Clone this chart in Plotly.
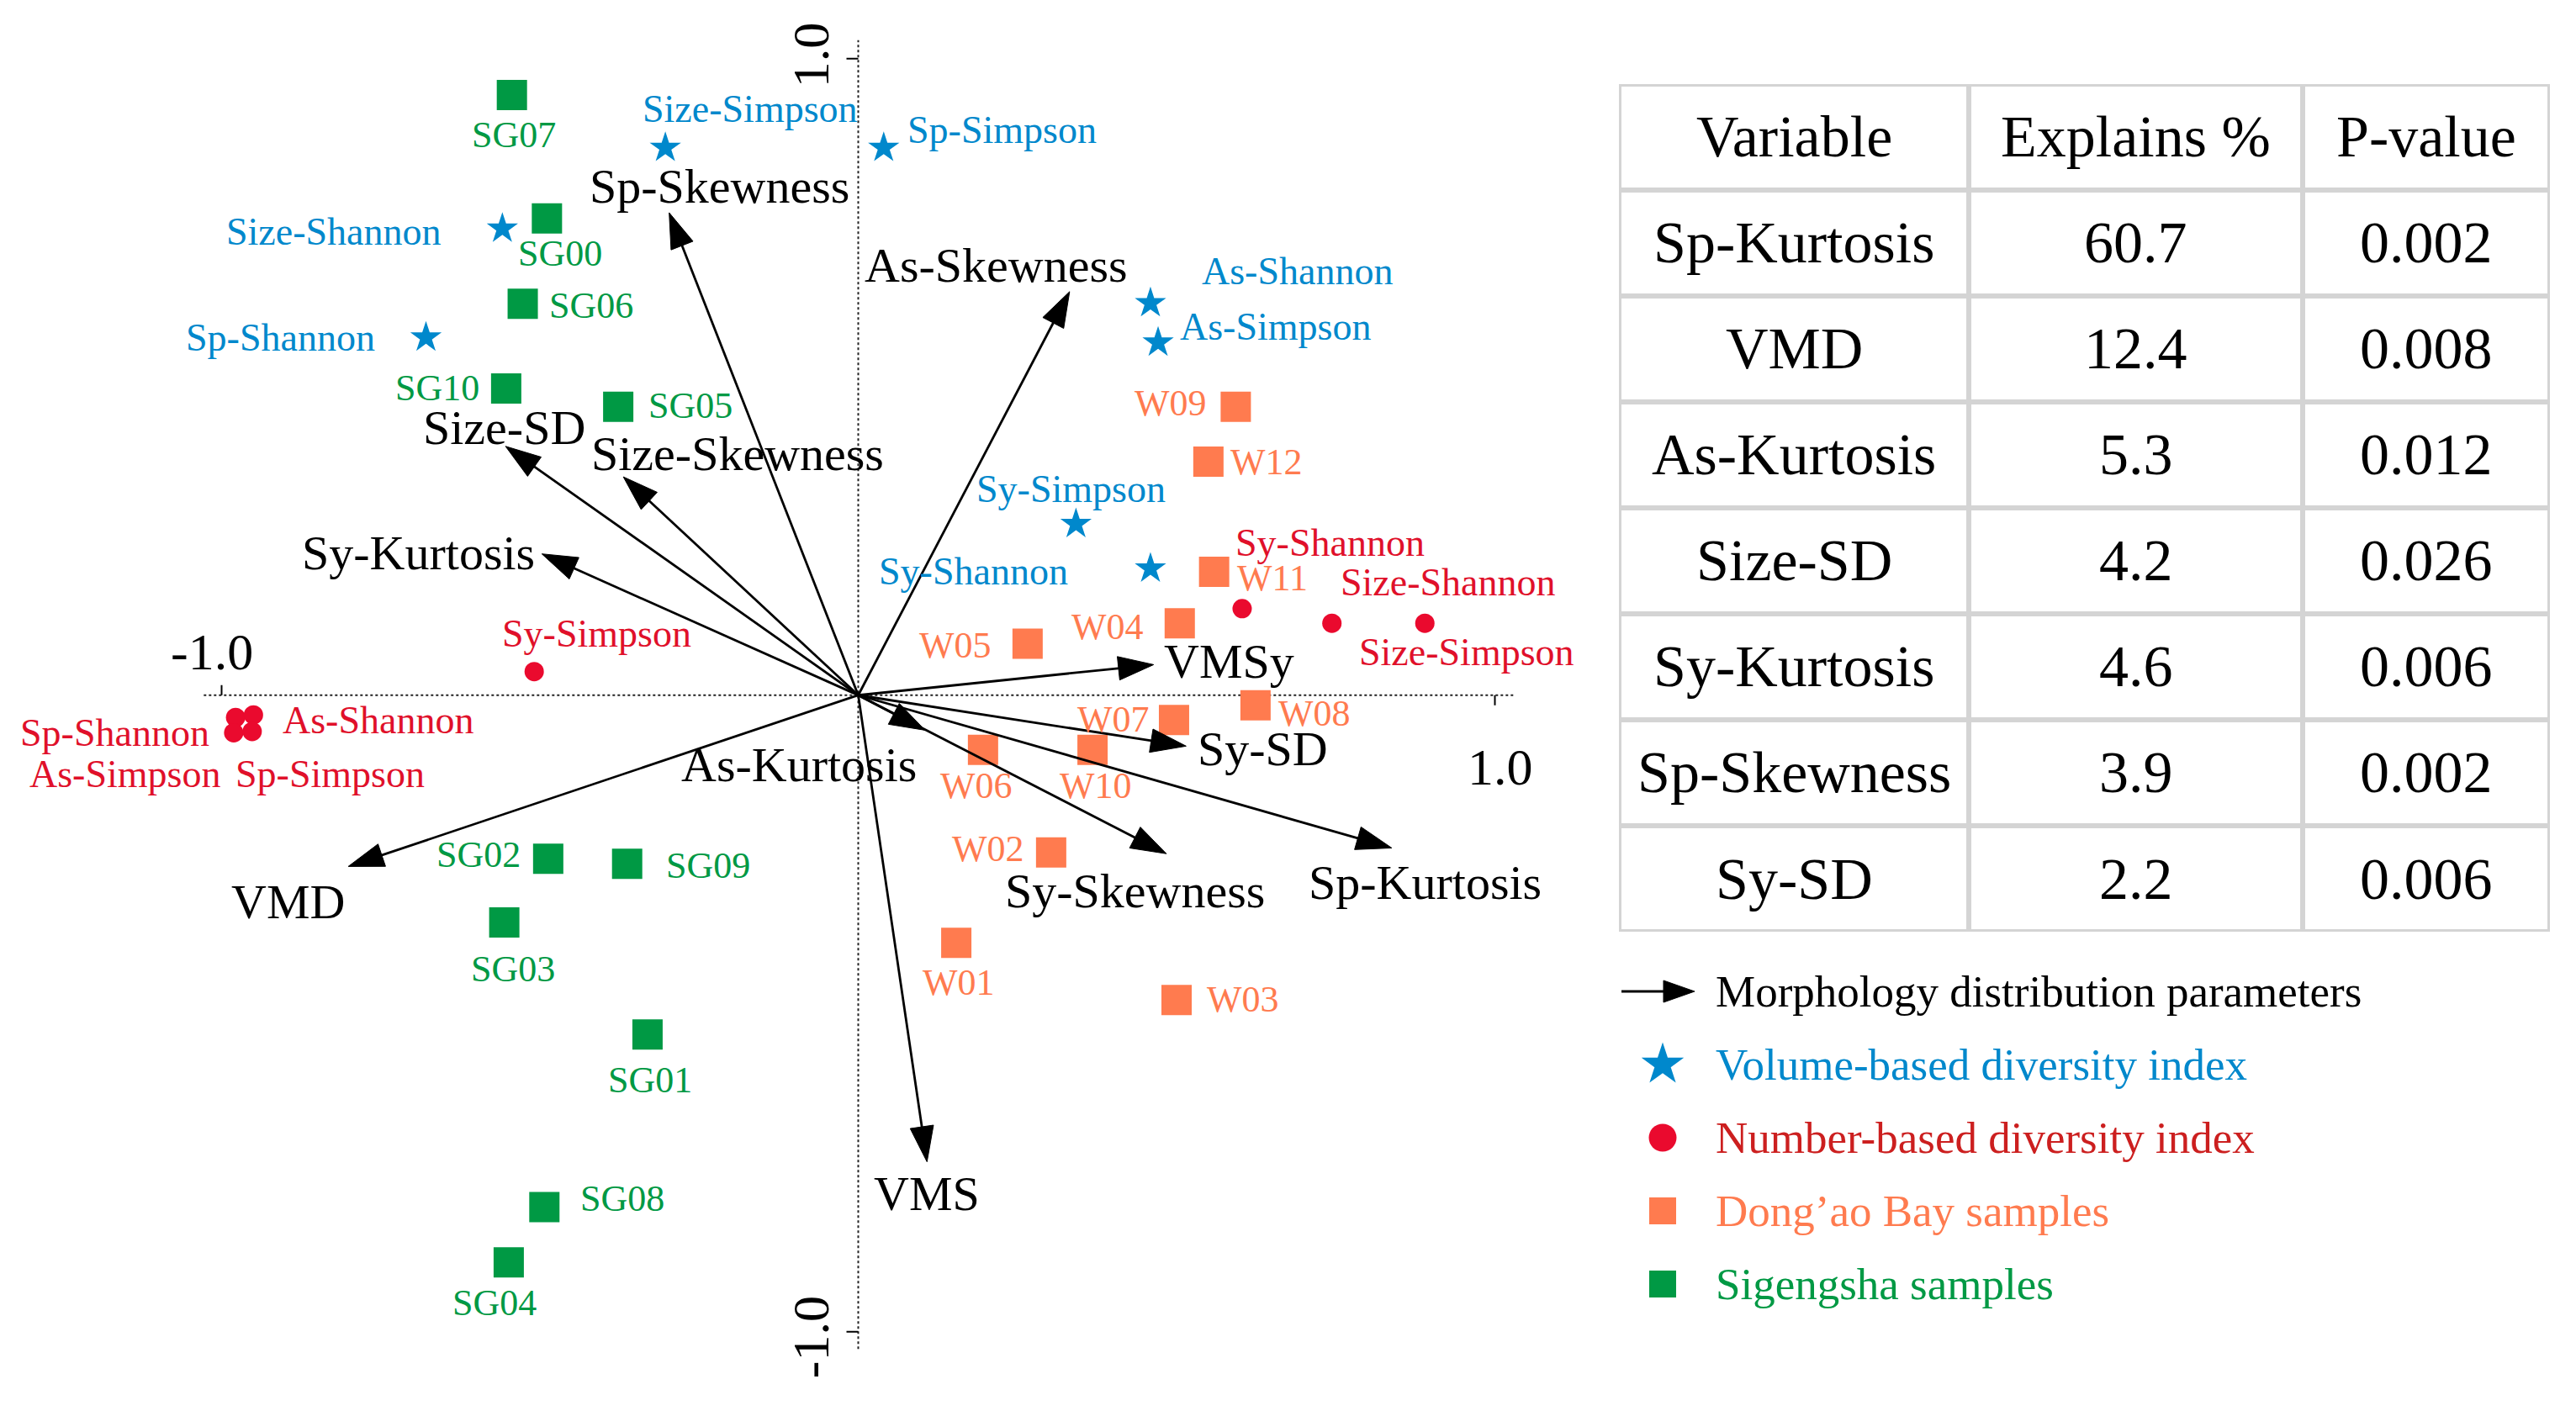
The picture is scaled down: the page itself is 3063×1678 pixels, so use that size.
import math
import plotly.graph_objects as go

FONT = "Liberation Serif, Times New Roman, serif"

# ------------------------------------------------------------------ data
sg_names = ["SG00", "SG01", "SG02", "SG03", "SG04", "SG05", "SG06", "SG07", "SG08", "SG09", "SG10"]
sg_x = [-0.489, -0.331, -0.487, -0.556, -0.549, -0.377, -0.527, -0.544, -0.493, -0.363, -0.553]
sg_y = [0.749, -0.533, -0.257, -0.357, -0.891, 0.453, 0.615, 0.943, -0.804, -0.265, 0.482]

w_names = ["W01", "W02", "W03", "W04", "W05", "W06", "W07", "W08", "W09", "W10", "W11", "W12"]
w_x = [0.154, 0.303, 0.500, 0.505, 0.266, 0.196, 0.496, 0.624, 0.593, 0.368, 0.559, 0.550]
w_y = [-0.389, -0.247, -0.479, 0.113, 0.081, -0.086, -0.039, -0.016, 0.453, -0.086, 0.194, 0.367]

vol_names = ["Size-Simpson", "Sp-Simpson", "Size-Shannon", "Sp-Shannon",
             "As-Shannon", "As-Simpson", "Sy-Simpson", "Sy-Shannon"]
vol_x = [-0.303, 0.040, -0.559, -0.679, 0.459, 0.471, 0.342, 0.459]
vol_y = [0.860, 0.860, 0.733, 0.562, 0.616, 0.554, 0.269, 0.199]

num_names = ["Sy-Simpson", "Sy-Shannon", "Size-Shannon", "Size-Simpson",
             "Sp-Shannon", "As-Shannon", "As-Simpson", "Sp-Simpson"]
num_x = [-0.509, 0.603, 0.744, 0.890, -0.978, -0.950, -0.981, -0.952]
num_y = [0.037, 0.136, 0.113, 0.113, -0.035, -0.031, -0.059, -0.057]

env_names = ["Sp-Skewness", "Size-SD", "Size-Skewness", "Sy-Kurtosis", "As-Skewness", "VMSy",
             "Sy-SD", "Sp-Kurtosis", "Sy-Skewness", "VMS", "As-Kurtosis", "VMD"]
env_x = [-0.297, -0.554, -0.369, -0.497, 0.332, 0.464, 0.515, 0.838, 0.484, 0.108, 0.105, -0.801]
env_y = [0.758, 0.391, 0.343, 0.222, 0.634, 0.048, -0.080, -0.240, -0.249, -0.733, -0.055, -0.269]

axis_ticks = [-1.0, 1.0]
axis_tick_labels = ["-1.0", "1.0"]

table_header = ["Variable", "Explains %", "P-value"]
table_vars = ["Sp-Kurtosis", "VMD", "As-Kurtosis", "Size-SD", "Sy-Kurtosis", "Sp-Skewness", "Sy-SD"]
table_explains = ["60.7", "12.4", "5.3", "4.2", "4.6", "3.9", "2.2"]
table_p = ["0.002", "0.008", "0.012", "0.026", "0.006", "0.002", "0.006"]

legend_labels = ["Morphology distribution parameters", "Volume-based diversity index",
                 "Number-based diversity index", "Dong’ao Bay samples", "Sigengsha samples"]

# ------------------------------------------------------------------ styles / layout constants
W, H = 3063, 1678
PX = 757.0                      # pixels per data unit (equal aspect)
ORIGIN_PX = (1020.5, 826.75)    # where (0,0) sits on the page
MAIN_RIGHT = 1920

GREEN = "#009944"
ORANGE = "#ff7b4f"
BLUE = "#0088cc"
RED = "#ea0a2e"
RED_TXT = "#e0102a"
GRID = "#d4d4d4"

# label offsets (pixels, dx right, dy down) from marker / arrow tip
sg_off = {"SG00": (16, 42), "SG01": (3, 54), "SG02": (-83, -5), "SG03": (10, 55), "SG04": (-17, 48),
          "SG05": (86, -1), "SG06": (81, 2), "SG07": (2, 48), "SG08": (93, -10), "SG09": (96, 2),
          "SG10": (-82, 0)}
w_off = {"W01": (3, 47), "W02": (-75, -4), "W03": (79, -1), "W04": (-86, 4), "W05": (-86, 2),
         "W06": (-8, 43), "W07": (-72, -1), "W08": (70, 10), "W09": (-77, -4), "W10": (4, 43),
         "W11": (69, 8), "W12": (69, 1)}
vol_off = {"Size-Simpson": (101, -46), "Sp-Simpson": (141, -21), "Size-Shannon": (-200, 4),
           "Sp-Shannon": (-173, 0), "As-Shannon": (175, -38), "As-Simpson": (139, -19),
           "Sy-Simpson": (-6, -42), "Sy-Shannon": (-210, 3)}
num_off = {"Sy-Simpson": (74, -45), "Sy-Shannon": (105, -78), "Size-Shannon": (138, -49),
           "Size-Simpson": (50, 34), "Sp-Shannon": (-144, 18), "As-Shannon": (148, 6),
           "As-Simpson": (-129, 49), "Sp-Simpson": (93, 51)}
env_off = {"Sp-Skewness": (60, -31), "Size-SD": (-2, -22), "Size-Skewness": (136, -28),
           "Sy-Kurtosis": (-147, -1), "As-Skewness": (-87, -31), "VMSy": (90, -4), "Sy-SD": (91, 3),
           "Sp-Kurtosis": (40, 41), "Sy-Skewness": (-37, 44), "VMS": (0, 38), "As-Kurtosis": (-150, 41),
           "VMD": (-72, 42)}

fig = go.Figure()

# ------------------------------------------------------------------ main ordination axes
x_range = [(0 - ORIGIN_PX[0]) / PX, (MAIN_RIGHT - ORIGIN_PX[0]) / PX]
y_range = [(ORIGIN_PX[1] - H) / PX, ORIGIN_PX[1] / PX]

shapes = []
annotations = []


def arrow(x0, y0, x1, y1, sx, sy, xref, yref, head_len, head_w, lw):
    """line + filled triangular head; sx, sy = pixels per data unit (up positive)."""
    dxp, dyp = (x1 - x0) * sx, (y1 - y0) * sy
    L = math.hypot(dxp, dyp)
    ux, uy = dxp / L, dyp / L
    nx, ny = -uy, ux
    bx, by = x1 - ux * head_len / sx, y1 - uy * head_len / sy
    c1 = (bx + nx * head_w / 2 / sx, by + ny * head_w / 2 / sy)
    c2 = (bx - nx * head_w / 2 / sx, by - ny * head_w / 2 / sy)
    shapes.append(dict(type="line", xref=xref, yref=yref, x0=x0, y0=y0, x1=bx + ux * 2 / sx,
                       y1=by + uy * 2 / sy, line=dict(color="black", width=lw), layer="above"))
    shapes.append(dict(type="path", xref=xref, yref=yref,
                       path=f"M{x1},{y1} L{c1[0]},{c1[1]} L{c2[0]},{c2[1]} Z",
                       fillcolor="black", line=dict(color="black", width=1), layer="above"))


# dotted zero axes
shapes.append(dict(type="line", xref="x", yref="y", x0=-1.028, x1=1.030, y0=0, y1=0,
                   line=dict(color="#222", width=2, dash="dot"), layer="below"))
shapes.append(dict(type="line", xref="x", yref="y", x0=0, x1=0, y0=-1.027, y1=1.029,
                   line=dict(color="#222", width=2, dash="dot"), layer="below"))
# ticks
shapes.append(dict(type="line", xref="x", yref="y", ysizemode="pixel", yanchor=0,
                   x0=axis_ticks[0], x1=axis_ticks[0], y0=0, y1=12, line=dict(color="black", width=2)))
shapes.append(dict(type="line", xref="x", yref="y", ysizemode="pixel", yanchor=0,
                   x0=axis_ticks[1], x1=axis_ticks[1], y0=0, y1=-12, line=dict(color="black", width=2)))
for t in axis_ticks:
    shapes.append(dict(type="line", xref="x", yref="y", xsizemode="pixel", xanchor=0,
                       x0=0, x1=-14, y0=t, y1=t, line=dict(color="black", width=2)))

# tick labels
tick_font = dict(family=FONT, size=62, color="black")
annotations.append(dict(x=axis_ticks[0], y=0, xref="x", yref="y", text=axis_tick_labels[0],
                        showarrow=False, xshift=-12, yshift=52, font=tick_font))
annotations.append(dict(x=axis_ticks[1], y=0, xref="x", yref="y", text=axis_tick_labels[1],
                        showarrow=False, xshift=6, yshift=-85, font=tick_font))
annotations.append(dict(x=0, y=axis_ticks[1], xref="x", yref="y", text=axis_tick_labels[1],
                        showarrow=False, xshift=-57, yshift=4, textangle=-90, font=tick_font))
annotations.append(dict(x=0, y=axis_ticks[0], xref="x", yref="y", text=axis_tick_labels[0],
                        showarrow=False, xshift=-57, yshift=-7, textangle=-90, font=tick_font))

# environmental arrows
for n, ex, ey in zip(env_names, env_x, env_y):
    arrow(0, 0, ex, ey, PX, PX, "x", "y", 42, 28, 2.8)
    dx, dy = env_off[n]
    annotations.append(dict(x=ex, y=ey, xref="x", yref="y", text=n, showarrow=False,
                            xshift=dx, yshift=-dy, font=dict(family=FONT, size=58, color="black")))

# point groups
fig.add_trace(go.Scatter(x=sg_x, y=sg_y, mode="markers", xaxis="x", yaxis="y",
                         marker=dict(symbol="square", size=36, color=GREEN, line=dict(width=0))))
fig.add_trace(go.Scatter(x=w_x, y=w_y, mode="markers", xaxis="x", yaxis="y",
                         marker=dict(symbol="square", size=36, color=ORANGE, line=dict(width=0))))
fig.add_trace(go.Scatter(x=vol_x, y=vol_y, mode="markers", xaxis="x", yaxis="y",
                         marker=dict(symbol="star", size=28, color=BLUE, line=dict(width=0))))
fig.add_trace(go.Scatter(x=num_x, y=num_y, mode="markers", xaxis="x", yaxis="y",
                         marker=dict(symbol="circle", size=23, color=RED, line=dict(width=0))))

for names, xs, ys, off, col, fs in [(sg_names, sg_x, sg_y, sg_off, GREEN, 44),
                                    (w_names, w_x, w_y, w_off, ORANGE, 44),
                                    (vol_names, vol_x, vol_y, vol_off, BLUE, 46),
                                    (num_names, num_x, num_y, num_off, RED_TXT, 46)]:
    for n, px_, py_ in zip(names, xs, ys):
        dx, dy = off[n]
        annotations.append(dict(x=px_, y=py_, xref="x", yref="y", text=n, showarrow=False,
                                xshift=dx, yshift=-dy, font=dict(family=FONT, size=fs, color=col)))

# ------------------------------------------------------------------ table (axes x2 / y2)
T_LEFT, T_RIGHT, T_TOP, T_BOT = 1925, 3032, 100, 1108
col_edges = [0, 416, 813, T_RIGHT - T_LEFT]
n_rows = 1 + len(table_vars)
for e in col_edges:
    shapes.append(dict(type="line", xref="x2", yref="y2", x0=e, x1=e, y0=0, y1=n_rows,
                       line=dict(color=GRID, width=6)))
for r in range(n_rows + 1):
    shapes.append(dict(type="line", xref="x2", yref="y2", x0=col_edges[0], x1=col_edges[-1], y0=r, y1=r,
                       line=dict(color=GRID, width=6)))

rows = [table_header] + [[a, b, c] for a, b, c in zip(table_vars, table_explains, table_p)]
for ri, row in enumerate(rows):
    for ci, txt in enumerate(row):
        annotations.append(dict(x=(col_edges[ci] + col_edges[ci + 1]) / 2, y=ri + 0.5, xref="x2", yref="y2",
                                text=txt, showarrow=False,
                                font=dict(family=FONT, size=70, color="black")))

fig.add_trace(go.Scatter(x=[None], y=[None], xaxis="x2", yaxis="y2", showlegend=False))

# ------------------------------------------------------------------ legend (axes x3 / y3)
L_LEFT, L_TOP, L_STEP, L_FIRST = 1900, 1135, 87.0, 1179
leg_colors = ["black", BLUE, "#cc1f1f", ORANGE, GREEN]
arrow(28, 0, 115, 0, 1.0, -L_STEP, "x3", "y3", 37, 26, 3)
fig.add_trace(go.Scatter(x=[77], y=[1], mode="markers", xaxis="x3", yaxis="y3",
                         marker=dict(symbol="star", size=38, color=BLUE, line=dict(width=0))))
fig.add_trace(go.Scatter(x=[77], y=[2], mode="markers", xaxis="x3", yaxis="y3",
                         marker=dict(symbol="circle", size=33, color=RED, line=dict(width=0))))
fig.add_trace(go.Scatter(x=[77], y=[3], mode="markers", xaxis="x3", yaxis="y3",
                         marker=dict(symbol="square", size=32, color=ORANGE, line=dict(width=0))))
fig.add_trace(go.Scatter(x=[77], y=[4], mode="markers", xaxis="x3", yaxis="y3",
                         marker=dict(symbol="square", size=32, color=GREEN, line=dict(width=0))))
for i, (lab, col) in enumerate(zip(legend_labels, leg_colors)):
    annotations.append(dict(x=138, y=i, xref="x3", yref="y3", text=lab, showarrow=False,
                            xanchor="left", font=dict(family=FONT, size=53, color=col)))

hidden = dict(visible=False, showgrid=False, zeroline=False, fixedrange=True)
fig.update_layout(
    width=W, height=H,
    margin=dict(l=0, r=0, t=0, b=0, pad=0),
    paper_bgcolor="white", plot_bgcolor="white",
    showlegend=False,
    xaxis=dict(domain=[0, MAIN_RIGHT / W], range=x_range, **hidden),
    yaxis=dict(domain=[0, 1], range=y_range, **hidden),
    xaxis2=dict(domain=[T_LEFT / W, T_RIGHT / W], range=[0, T_RIGHT - T_LEFT], anchor="y2", **hidden),
    yaxis2=dict(domain=[1 - T_BOT / H, 1 - T_TOP / H], range=[n_rows, 0], anchor="x2", **hidden),
    xaxis3=dict(domain=[L_LEFT / W, 1], range=[0, W - L_LEFT], anchor="y3", **hidden),
    yaxis3=dict(domain=[0, 1 - L_TOP / H],
                range=[(H - L_FIRST) / L_STEP, (L_TOP - L_FIRST) / L_STEP], anchor="x3", **hidden),
    shapes=shapes,
    annotations=annotations,
)

fig.write_html("out.html", config={"displayModeBar": False},
               post_script="document.body.style.margin='0';document.body.style.overflow='hidden';")
